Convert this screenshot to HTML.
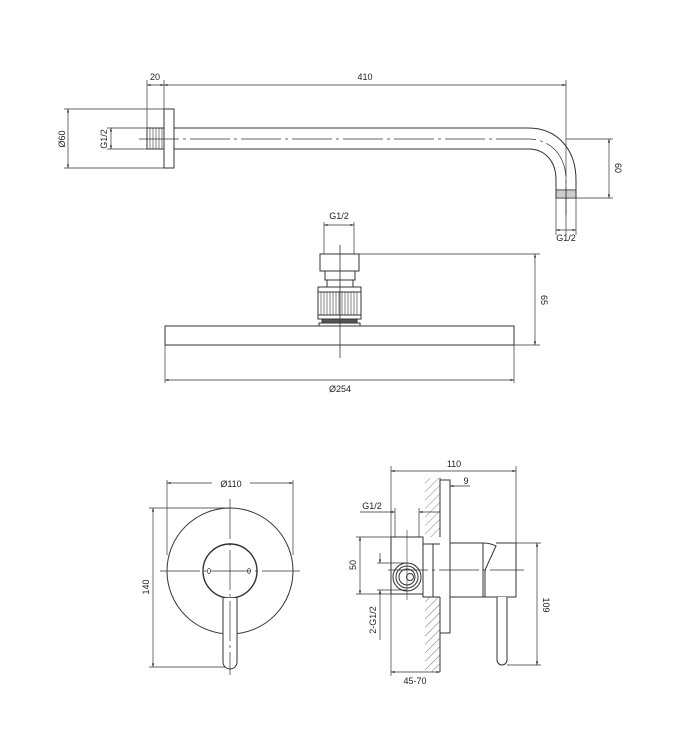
<!DOCTYPE html>
<html><head><meta charset="utf-8"><style>
html,body{margin:0;padding:0;background:#fff;}
svg{display:block;}
text{font-family:"Liberation Sans",sans-serif;font-size:9px;fill:#222;}
</style></head><body>
<svg width="684" height="738" viewBox="0 0 684 738" xmlns="http://www.w3.org/2000/svg">
<defs>
<marker id="a" viewBox="0 0 10 10" refX="10" refY="5" markerWidth="7" markerHeight="5" orient="auto-start-reverse"><path d="M0,2 L10,5 L0,8 z" fill="#222"/></marker>
<pattern id="h" width="6" height="6" patternUnits="userSpaceOnUse" patternTransform="rotate(45)"><line x1="0" y1="0" x2="0" y2="6" stroke="#444" stroke-width="0.7"/></pattern>
</defs>
<g stroke="#333" stroke-width="1" fill="none">
<!-- ARM -->
<line x1="147" y1="80" x2="147" y2="128" stroke-width="0.7"/>
<line x1="164" y1="80" x2="164" y2="109" stroke-width="0.7"/>
<line x1="566" y1="80" x2="566" y2="235" stroke-width="0.7"/>
<line x1="147" y1="85" x2="164" y2="85" stroke-width="0.7" marker-start="url(#a)" marker-end="url(#a)"/>
<line x1="164" y1="85" x2="566" y2="85" stroke-width="0.7" marker-start="url(#a)" marker-end="url(#a)"/>
<rect x="164" y="109" width="10" height="59"/>
<line x1="64" y1="109" x2="164" y2="109" stroke-width="0.7"/>
<line x1="64" y1="168" x2="164" y2="168" stroke-width="0.7"/>
<line x1="68" y1="109" x2="68" y2="168" stroke-width="0.7" marker-start="url(#a)" marker-end="url(#a)"/>
<rect x="147" y="128" width="17" height="21"/>
<path d="M150,128V149M153,128V149M156,128V149M159,128V149M162,128V149" stroke-width="0.6"/>
<line x1="107" y1="128" x2="147" y2="128" stroke-width="0.7"/>
<line x1="107" y1="149" x2="147" y2="149" stroke-width="0.7"/>
<line x1="111" y1="128" x2="111" y2="149" stroke-width="0.7" marker-start="url(#a)" marker-end="url(#a)"/>
<path d="M139,139 H528 C550,139 566,155 566,180 V215" stroke-width="0.7" stroke-dasharray="40,4,3,4"/>
<path d="M174,128 H528 C558,128 576,150 576,180 V190"/>
<path d="M174,149 H528 C546,149 556,162 556,180 V190"/>
<rect x="556" y="190" width="20" height="8"/>
<path d="M556,192H576M556,194H576M556,196H576" stroke-width="0.6"/>
<line x1="556" y1="198" x2="556" y2="235" stroke-width="0.7"/>
<line x1="576" y1="198" x2="576" y2="235" stroke-width="0.7"/>
<line x1="556" y1="230" x2="576" y2="230" stroke-width="0.7" marker-start="url(#a)" marker-end="url(#a)"/>
<line x1="566" y1="139" x2="613" y2="139" stroke-width="0.7"/>
<line x1="576" y1="198" x2="613" y2="198" stroke-width="0.7"/>
<line x1="609" y1="139" x2="609" y2="198" stroke-width="0.7" marker-start="url(#a)" marker-end="url(#a)"/>
<!-- SHOWER HEAD -->
<line x1="324" y1="222" x2="324" y2="254" stroke-width="0.7"/>
<line x1="354" y1="222" x2="354" y2="254" stroke-width="0.7"/>
<line x1="324" y1="225" x2="354" y2="225" stroke-width="0.7" marker-start="url(#a)" marker-end="url(#a)"/>
<rect x="320" y="254" width="39" height="17"/>
<rect x="325" y="271" width="30" height="9"/>
<rect x="327" y="280" width="26" height="7"/>
<rect x="318" y="287" width="43" height="32"/>
<path d="M321,292V315M324,292V315M327,292V315M330,292V315M333,292V315M336,292V315M339,292V315M342,292V315M345,292V315M348,292V315M351,292V315M354,292V315M357,292V315" stroke-width="0.6"/>
<line x1="318" y1="292" x2="361" y2="292"/>
<line x1="318" y1="315" x2="361" y2="315"/>
<rect x="322" y="319" width="35" height="4" fill="#555"/>
<rect x="319" y="323" width="41" height="3"/>
<rect x="165" y="326" width="349" height="19"/>
<line x1="165" y1="345" x2="165" y2="383" stroke-width="0.7"/>
<line x1="514" y1="345" x2="514" y2="383" stroke-width="0.7"/>
<line x1="165" y1="380" x2="514" y2="380" stroke-width="0.7" marker-start="url(#a)" marker-end="url(#a)"/>
<line x1="340" y1="245" x2="340" y2="358" stroke-width="0.8"/>
<line x1="359" y1="254" x2="540" y2="254" stroke-width="0.7"/>
<line x1="514" y1="345" x2="540" y2="345" stroke-width="0.7"/>
<line x1="535" y1="254" x2="535" y2="345" stroke-width="0.7" marker-start="url(#a)" marker-end="url(#a)"/>
<!-- MIXER FRONT -->
<circle cx="230" cy="571" r="63"/>
<circle cx="230" cy="571" r="27" stroke-width="1.4"/>
<ellipse cx="209" cy="571" rx="1.5" ry="2.5" stroke-width="0.7"/>
<ellipse cx="249" cy="571" rx="1.5" ry="2.5" stroke-width="0.7"/>
<path d="M223,598 V662 A7,7 0 0 0 237,662 V598" fill="#fff"/>
<line x1="230" y1="499" x2="230" y2="675" stroke-width="0.7" stroke-dasharray="40,4,3,4"/>
<line x1="160" y1="571" x2="300" y2="571" stroke-width="0.7" stroke-dasharray="40,4,3,4"/>
<line x1="167" y1="480" x2="167" y2="555" stroke-width="0.7"/>
<line x1="293" y1="480" x2="293" y2="555" stroke-width="0.7"/>
<line x1="167" y1="483" x2="212" y2="483" stroke-width="0.7" marker-start="url(#a)"/>
<line x1="250" y1="483" x2="293" y2="483" stroke-width="0.7" marker-end="url(#a)"/>
<line x1="149" y1="508" x2="230" y2="508" stroke-width="0.7"/>
<line x1="149" y1="667" x2="225" y2="667" stroke-width="0.7"/>
<line x1="153" y1="508" x2="153" y2="667" stroke-width="0.7" marker-start="url(#a)" marker-end="url(#a)"/>
<!-- MIXER SIDE -->
<rect x="425" y="478" width="15" height="59" fill="url(#h)" stroke="none"/>
<rect x="425" y="597" width="15" height="75" fill="url(#h)" stroke="none"/>
<line x1="440" y1="478" x2="440" y2="537"/>
<line x1="440" y1="597" x2="440" y2="672"/>
<line x1="391" y1="466" x2="391" y2="676" stroke-width="0.7"/>
<line x1="516" y1="466" x2="516" y2="545" stroke-width="0.7"/>
<line x1="391" y1="471" x2="516" y2="471" stroke-width="0.7" marker-start="url(#a)" marker-end="url(#a)"/>
<path d="M440,480 H450 V633 H440"/>
<line x1="470" y1="486" x2="450" y2="486" stroke-width="0.7" marker-end="url(#a)"/>
<rect x="391" y="537" width="32" height="57" fill="#fff"/>
<rect x="423" y="544" width="10" height="53"/>
<line x1="433" y1="544" x2="440" y2="544"/>
<line x1="433" y1="597" x2="440" y2="597"/>
<circle cx="407" cy="577" r="14"/>
<circle cx="407" cy="577" r="11"/>
<circle cx="407" cy="577" r="8"/>
<circle cx="410" cy="577" r="3.5"/>
<line x1="407" y1="530" x2="407" y2="600" stroke-width="0.6"/>
<line x1="395" y1="508" x2="395" y2="537" stroke-width="0.7"/>
<line x1="419" y1="508" x2="419" y2="537" stroke-width="0.7"/>
<line x1="360" y1="512" x2="395" y2="512" stroke-width="0.7" marker-end="url(#a)"/>
<line x1="440" y1="512" x2="419" y2="512" stroke-width="0.7" marker-end="url(#a)"/>
<line x1="356" y1="537" x2="391" y2="537" stroke-width="0.7"/>
<line x1="356" y1="594" x2="391" y2="594" stroke-width="0.7"/>
<line x1="360" y1="537" x2="360" y2="594" stroke-width="0.7" marker-start="url(#a)" marker-end="url(#a)"/>
<line x1="377" y1="563" x2="407" y2="563" stroke-width="0.7"/>
<line x1="377" y1="590" x2="407" y2="590" stroke-width="0.7"/>
<line x1="380" y1="553" x2="380" y2="563" stroke-width="0.7" marker-end="url(#a)"/>
<line x1="380" y1="640" x2="380" y2="590" stroke-width="0.7" marker-end="url(#a)"/>
<rect x="450" y="543" width="33" height="54"/>
<path d="M483,543 C488,543 492,544 496,546 L485,570 V597 M496,543 H516 V597 H483"/>
<path d="M497,597 V660 A5,5 0 0 0 507,660 V597" fill="#fff"/>
<line x1="388" y1="570" x2="524" y2="570" stroke-width="0.7" stroke-dasharray="40,4,3,4"/>
<line x1="516" y1="543" x2="541" y2="543" stroke-width="0.7"/>
<line x1="507" y1="665" x2="541" y2="665" stroke-width="0.7"/>
<line x1="537" y1="543" x2="537" y2="665" stroke-width="0.7" marker-start="url(#a)" marker-end="url(#a)"/>
<line x1="391" y1="672" x2="440" y2="672" stroke-width="0.7" marker-start="url(#a)" marker-end="url(#a)"/>
</g>
<text x="155" y="80" text-anchor="middle">20</text>
<text x="365" y="80" text-anchor="middle">410</text>
<text transform="translate(65,139) rotate(-90)" text-anchor="middle">Ø60</text>
<text transform="translate(107,139) rotate(-90)" text-anchor="middle">G1/2</text>
<text x="566" y="241" text-anchor="middle">G1/2</text>
<text transform="translate(615,168) rotate(90)" text-anchor="middle">60</text>
<text x="339" y="219" text-anchor="middle">G1/2</text>
<text x="340" y="392" text-anchor="middle">Ø254</text>
<text transform="translate(541,300) rotate(90)" text-anchor="middle">65</text>
<text x="231" y="487" text-anchor="middle">Ø110</text>
<text transform="translate(149,587) rotate(-90)" text-anchor="middle">140</text>
<text x="454" y="467" text-anchor="middle">110</text>
<text x="466" y="484" text-anchor="middle">9</text>
<text x="372" y="509" text-anchor="middle">G1/2</text>
<text transform="translate(356,565) rotate(-90)" text-anchor="middle">50</text>
<text transform="translate(376,620) rotate(-90)" text-anchor="middle">2-G1/2</text>
<text transform="translate(543,605) rotate(90)" text-anchor="middle">109</text>
<text x="415" y="684" text-anchor="middle">45-70</text>
</svg>
</body></html>
